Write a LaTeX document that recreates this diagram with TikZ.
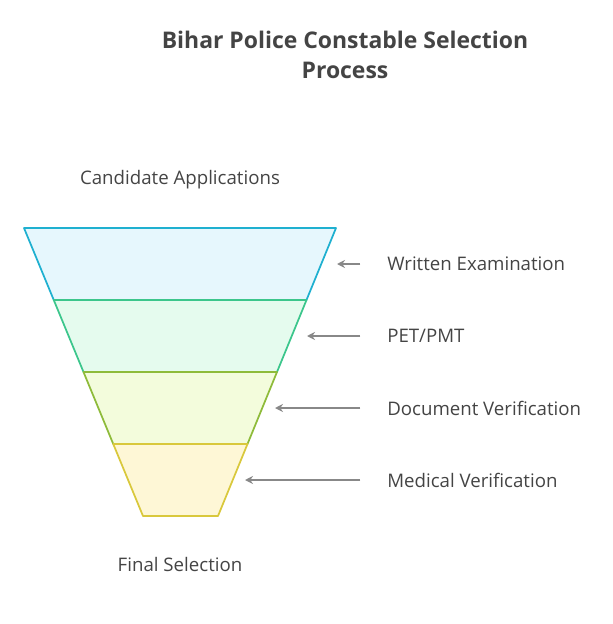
\documentclass[tikz,border=0pt]{standalone}
\usepackage{fontspec}
\setmainfont{Open Sans}
\usetikzlibrary{arrows.meta, positioning, calc}
\definecolor{bandonefill}{HTML}{E6F7FD}
\definecolor{bandonedraw}{HTML}{1FB0D0}
\definecolor{bandtwofill}{HTML}{E5FBEE}
\definecolor{bandtwodraw}{HTML}{3CC68C}
\definecolor{bandthreefill}{HTML}{F3FCDC}
\definecolor{bandthreedraw}{HTML}{8EBB3A}
\definecolor{bandfourfill}{HTML}{FEF7D6}
\definecolor{bandfourdraw}{HTML}{D9C83C}
\definecolor{textgray}{HTML}{444444}
\definecolor{arrowgray}{HTML}{888888}
\tikzset{
    band/.style={line width=1.3pt, line join=round},
    label/.style={font=\fontsize{14}{16}\selectfont, text=textgray, inner sep=0pt},
    stagelabel/.style={label, anchor=west},
    pointer/.style={draw=arrowgray, line width=1.2pt, -{Stealth[length=6pt, width=6pt]}},
    titletext/.style={font=\fontsize{17.2}{23}\selectfont\bfseries, text=textgray, align=center}
}
\begin{document}
\begin{tikzpicture}[x=0.75pt, y=-0.75pt]
\useasboundingbox (0,0) rectangle (613,624);

% Title
\node[titletext] (title) at (345,55) {Bihar Police Constable Selection\\Process};

% Funnel bands
\draw[band, fill=bandonefill, draw=bandonedraw] (24,228) -- (336,228) -- (306.5,300) -- (53.75,300) -- cycle;
\draw[band, fill=bandtwofill, draw=bandtwodraw] (53.75,300) -- (306.5,300) -- (277,372) -- (83.5,372) -- cycle;
\draw[band, fill=bandthreefill, draw=bandthreedraw] (83.5,372) -- (277,372) -- (247.5,444) -- (113.25,444) -- cycle;
\draw[band, fill=bandfourfill, draw=bandfourdraw] (113.25,444) -- (247.5,444) -- (218,516) -- (143,516) -- cycle;

% Edge points
\coordinate (edgeone) at (337,264);
\coordinate (edgetwo) at (307,336);
\coordinate (edgethree) at (275,408);
\coordinate (edgefour) at (245,480);

% Labels
\node[label] (input) at (180,180) {Candidate Applications};
\node[label] (output) at (180,564) {Final Selection};
\node[stagelabel] (written) at (387,264) {Written Examination};
\node[stagelabel] (pet) at (387,336) {PET/PMT};
\node[stagelabel] (docs) at (387,408) {Document Verification};
\node[stagelabel] (medical) at (387,480) {Medical Verification};

% Pointers
\draw[pointer] ([xshift=-20pt]written.west) -- (edgeone);
\draw[pointer] ([xshift=-20pt]pet.west) -- (edgetwo);
\draw[pointer] ([xshift=-20pt]docs.west) -- (edgethree);
\draw[pointer] ([xshift=-20pt]medical.west) -- (edgefour);
\end{tikzpicture}
\end{document}
